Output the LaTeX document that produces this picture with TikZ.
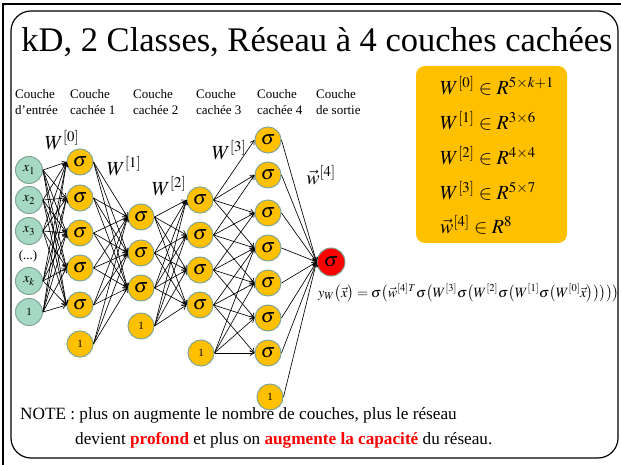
\documentclass[tikz,border=0pt]{standalone}
\usepackage{mathptmx}
\usepackage{fontspec}
\setmainfont{Liberation Serif}
\usetikzlibrary{arrows.meta}
\definecolor{gold}{HTML}{FFC000}
\definecolor{mint}{RGB}{166,217,196}
\definecolor{edgec}{RGB}{130,165,150}
\definecolor{redn}{HTML}{FF0000}
\begin{document}
\begin{tikzpicture}[x=1pt,y=-1pt,
  neuron/.style={circle, draw=edgec, line width=1pt, fill=gold, minimum size=26pt, inner sep=0pt, font=\fontsize{20}{20}\selectfont},
  biasn/.style={neuron, font=\fontsize{11}{11}\selectfont},
  inode/.style={neuron, fill=mint, minimum size=27pt, font=\fontsize{14}{14}\selectfont},
  outn/.style={neuron, fill=redn, minimum size=28pt},
  conn/.style={-{Straight Barb[length=4pt,width=5pt]}, line width=0.65pt},
  lbl/.style={anchor=north west, align=left, inner sep=0pt, font=\fontsize{13}{16}\selectfont},
  wlab/.style={inner sep=0pt, font=\fontsize{20}{20}\selectfont},
  boxtxt/.style={anchor=west, inner sep=0pt, font=\fontsize{20}{20}\selectfont}
]
\useasboundingbox (0,0) rectangle (621,465);
% frames
\draw[line width=1.8pt] (3,470) -- (3,4) -- (630,4);
\draw[line width=1.2pt, rounded corners=20pt] (11,11) rectangle (618,458);
% title
\node[inner sep=0pt, font=\fontsize{34.5}{34.5}\selectfont] (title) at (317,42) {kD, 2 Classes, Réseau à 4 couches cachées};
% column labels
\node[lbl] (l0) at (15,89) {Couche\\d’entrée};
\node[lbl] (l1) at (70,89) {Couche\\cachée 1};
\node[lbl] (l2) at (133,89) {Couche\\cachée 2};
\node[lbl] (l3) at (196,89) {Couche\\cachée 3};
\node[lbl] (l4) at (257,89) {Couche\\cachée 4};
\node[lbl] (l5) at (316,89) {Couche\\de sortie};
% input layer
\node[inode] (i1) at (29,170) {$x_1$};
\node[inode] (i2) at (29,200) {$x_2$};
\node[inode] (i3) at (29,231) {$x_3$};
\node[inner sep=0pt, font=\fontsize{13}{13}\selectfont] (dots) at (28,256) {(...)};
\node[inode] (i4) at (29,281) {$x_k$};
\node[inode, font=\fontsize{11}{11}\selectfont] (i5) at (29,312) {1};
% layer 1
\foreach \y [count=\i] in {162,198,233,268,305}
  \node[neuron] (a\i) at (80,\y) {$\sigma$};
\node[biasn] (a6) at (80,344) {1};
% layer 2
\foreach \y [count=\i] in {217,253,288}
  \node[neuron] (b\i) at (141,\y) {$\sigma$};
\node[biasn] (b4) at (141,326) {1};
% layer 3
\foreach \y [count=\i] in {200,235,270,305}
  \node[neuron] (c\i) at (200,\y) {$\sigma$};
\node[biasn] (c5) at (201,353) {1};
% layer 4
\foreach \y [count=\i] in {140,175,213,248,283,318,353}
  \node[neuron] (d\i) at (268,\y) {$\sigma$};
\node[biasn] (d8) at (270,397) {1};
% output
\node[outn] (o) at (331,262) {$\sigma$};
% connections
\foreach \s in {1,...,5}
  \foreach \t in {1,...,5}
    \draw[conn] (i\s.east) -- (a\t.west);
\foreach \s in {1,...,6}
  \foreach \t in {1,...,3}
    \draw[conn] (a\s.east) -- (b\t.west);
\foreach \s in {1,...,4}
  \foreach \t in {1,...,4}
    \draw[conn] (b\s.east) -- (c\t.west);
\foreach \s/\m in {1/1,2/2,3/3,4/4,5/4}
  \foreach \k in {0,...,3}{
    \pgfmathtruncatemacro\t{\m+\k}
    \draw[conn] (c\s.east) -- (d\t.west);
  }
\foreach \s in {1,...,8}
  \draw[conn] (d\s.east) -- (o.west);
% weight labels
\node[wlab] (w0) at (62,140) {$W^{[0]}$};
\node[wlab] (w1) at (124,166) {$W^{[1]}$};
\node[wlab] (w2) at (169,186) {$W^{[2]}$};
\node[wlab] (w3) at (229,150) {$W^{[3]}$};
\node[wlab] (w4) at (321,175) {$\vec{w}^{[4]}$};
% box
\node[fill=gold, rounded corners=9pt, minimum width=151pt, minimum height=177pt, inner sep=0pt] (box) at (491.5,154.5) {};
\node[boxtxt] (m0) at (440,86) {$W^{[0]}\in R^{5\times k+1}$};
\node[boxtxt] (m1) at (440,121) {$W^{[1]}\in R^{3\times 6}$};
\node[boxtxt] (m2) at (440,156) {$W^{[2]}\in R^{4\times 4}$};
\node[boxtxt] (m3) at (440,191) {$W^{[3]}\in R^{5\times 7}$};
\node[boxtxt] (m4) at (440,225) {$\vec{w}^{[4]}\in R^{8}$};
% formula
\node[anchor=west, inner sep=0pt, font=\fontsize{14.2}{14.2}\selectfont] (f) at (318,293)
  {$y_W\bigl(\vec{x}\bigr)=\sigma\bigl(\vec{w}^{[4]T}\sigma\bigl(W^{[3]}\sigma\bigl(W^{[2]}\sigma\bigl(W^{[1]}\sigma\bigl(W^{[0]}\vec{x}\bigr)\bigr)\bigr)\bigr)\bigr)$};
% note
\node[anchor=west, inner sep=0pt, font=\fontsize{17.2}{17.2}\selectfont] (n1) at (20,415) {NOTE : plus on augmente le nombre de couches, plus le réseau};
\node[anchor=west, inner sep=0pt, font=\fontsize{17.2}{17.2}\selectfont] (n2) at (75,440) {devient \textcolor{redn}{\textbf{profond}} et plus on \textcolor{redn}{\textbf{augmente la capacité}} du réseau.};
\end{tikzpicture}
\end{document}
